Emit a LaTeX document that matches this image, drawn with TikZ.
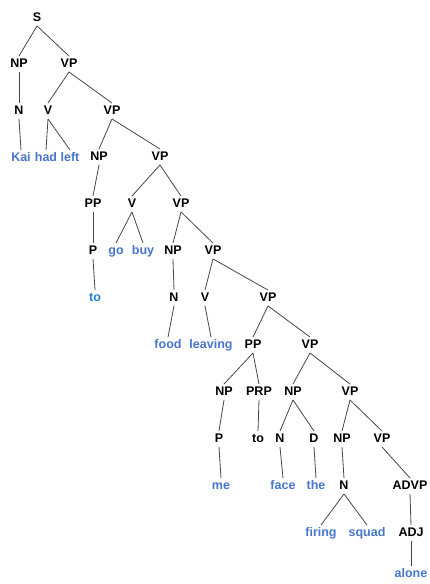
\documentclass[tikz,border=0pt]{standalone}
\usepackage{fontspec}
\setmainfont{Liberation Sans}
\definecolor{leafblue}{RGB}{72,118,204}
\definecolor{toblue}{RGB}{36,128,204}

\begin{document}
\begin{tikzpicture}[x=1pt, y=-1pt,
		every node/.style = {font=\fontsize{12.5}{14}\selectfont\bfseries,
			inner sep=2pt, text height=9pt, text depth=2.5pt},
		leaf/.style = {text=leafblue},
		branch/.style = {draw=black!72, line width=0.8pt}]
		\useasboundingbox (0,0) rectangle (430,584);
		\clip (0,0) rectangle (430,584);
		% categories
		\node (s) at (37,18) {S};
		\node (np1) at (19,64) {NP};
		\node (vp1) at (69,64) {VP};
		\node (n2) at (19,111) {N};
		\node (v2) at (48,111) {V};
		\node (vp2) at (112,111) {VP};
		\node (np3) at (99,157) {NP};
		\node (vp3) at (160,157) {VP};
		\node (pp4) at (93,204) {PP};
		\node (v4) at (132,204) {V};
		\node (vp4) at (181,204) {VP};
		\node (p5) at (93,251) {P};
		\node (np5) at (173,251) {NP};
		\node (vp5) at (213,251) {VP};
		\node (n6) at (174,298) {N};
		\node (v6) at (205,298) {V};
		\node (vp6) at (268,298) {VP};
		\node (pp7) at (253,345) {PP};
		\node (vp7) at (310,345) {VP};
		\node (np8a) at (224,392) {NP};
		\node (prp8) at (259,392) {PRP};
		\node (np8b) at (293,392) {NP};
		\node (vp8) at (350,392) {VP};
		\node (p9) at (219,439) {P};
		\node (to9) at (258,439) {to};
		\node (n9) at (280,439) {N};
		\node (d9) at (314,439) {D};
		\node (np9) at (342,439) {NP};
		\node (vp9) at (382,439) {VP};
		\node (n10) at (344,486) {N};
		\node (advp10) at (410,486) {ADVP};
		\node (adj11) at (411,533) {ADJ};
		% words
		\node[leaf] (kai) at (21,158) {Kai};
		\node[leaf] (had) at (46,158) {had};
		\node[leaf] (left) at (70,158) {left};
		\node[leaf] (go) at (116,251) {go};
		\node[leaf] (buy) at (143,251) {buy};
		\node[text=toblue] (to6) at (95,298) {to};
		\node[leaf] (food) at (168,345) {food};
		\node[leaf] (leaving) at (211,345) {leaving};
		\node[leaf] (me) at (221,486) {me};
		\node[leaf] (face) at (283,486) {face};
		\node[leaf] (the) at (316,486) {the};
		\node[leaf] (firing) at (321,533) {firing};
		\node[leaf] (squad) at (367,533) {squad};
		\node[leaf] (alone) at (411,574) {alone};
		% branches
		\foreach \a/\b in {s/np1, s/vp1, np1/n2, n2/kai, vp1/v2, vp1/vp2,
			v2/had, v2/left, vp2/np3, vp2/vp3, np3/pp4, pp4/p5, p5/to6,
			vp3/v4, vp3/vp4, v4/go, v4/buy, vp4/np5, vp4/vp5, np5/n6, n6/food,
			vp5/v6, vp5/vp6, v6/leaving, vp6/pp7, vp6/vp7, pp7/np8a, pp7/prp8,
			np8a/p9, p9/me, prp8/to9, vp7/np8b, vp7/vp8, np8b/n9, np8b/d9,
			n9/face, d9/the, vp8/np9, vp8/vp9, np9/n10, n10/firing, n10/squad,
			vp9/advp10, advp10/adj11, adj11/alone}
		\draw[branch] (\a.south) -- (\b.north);
	\end{tikzpicture}
\end{document}
